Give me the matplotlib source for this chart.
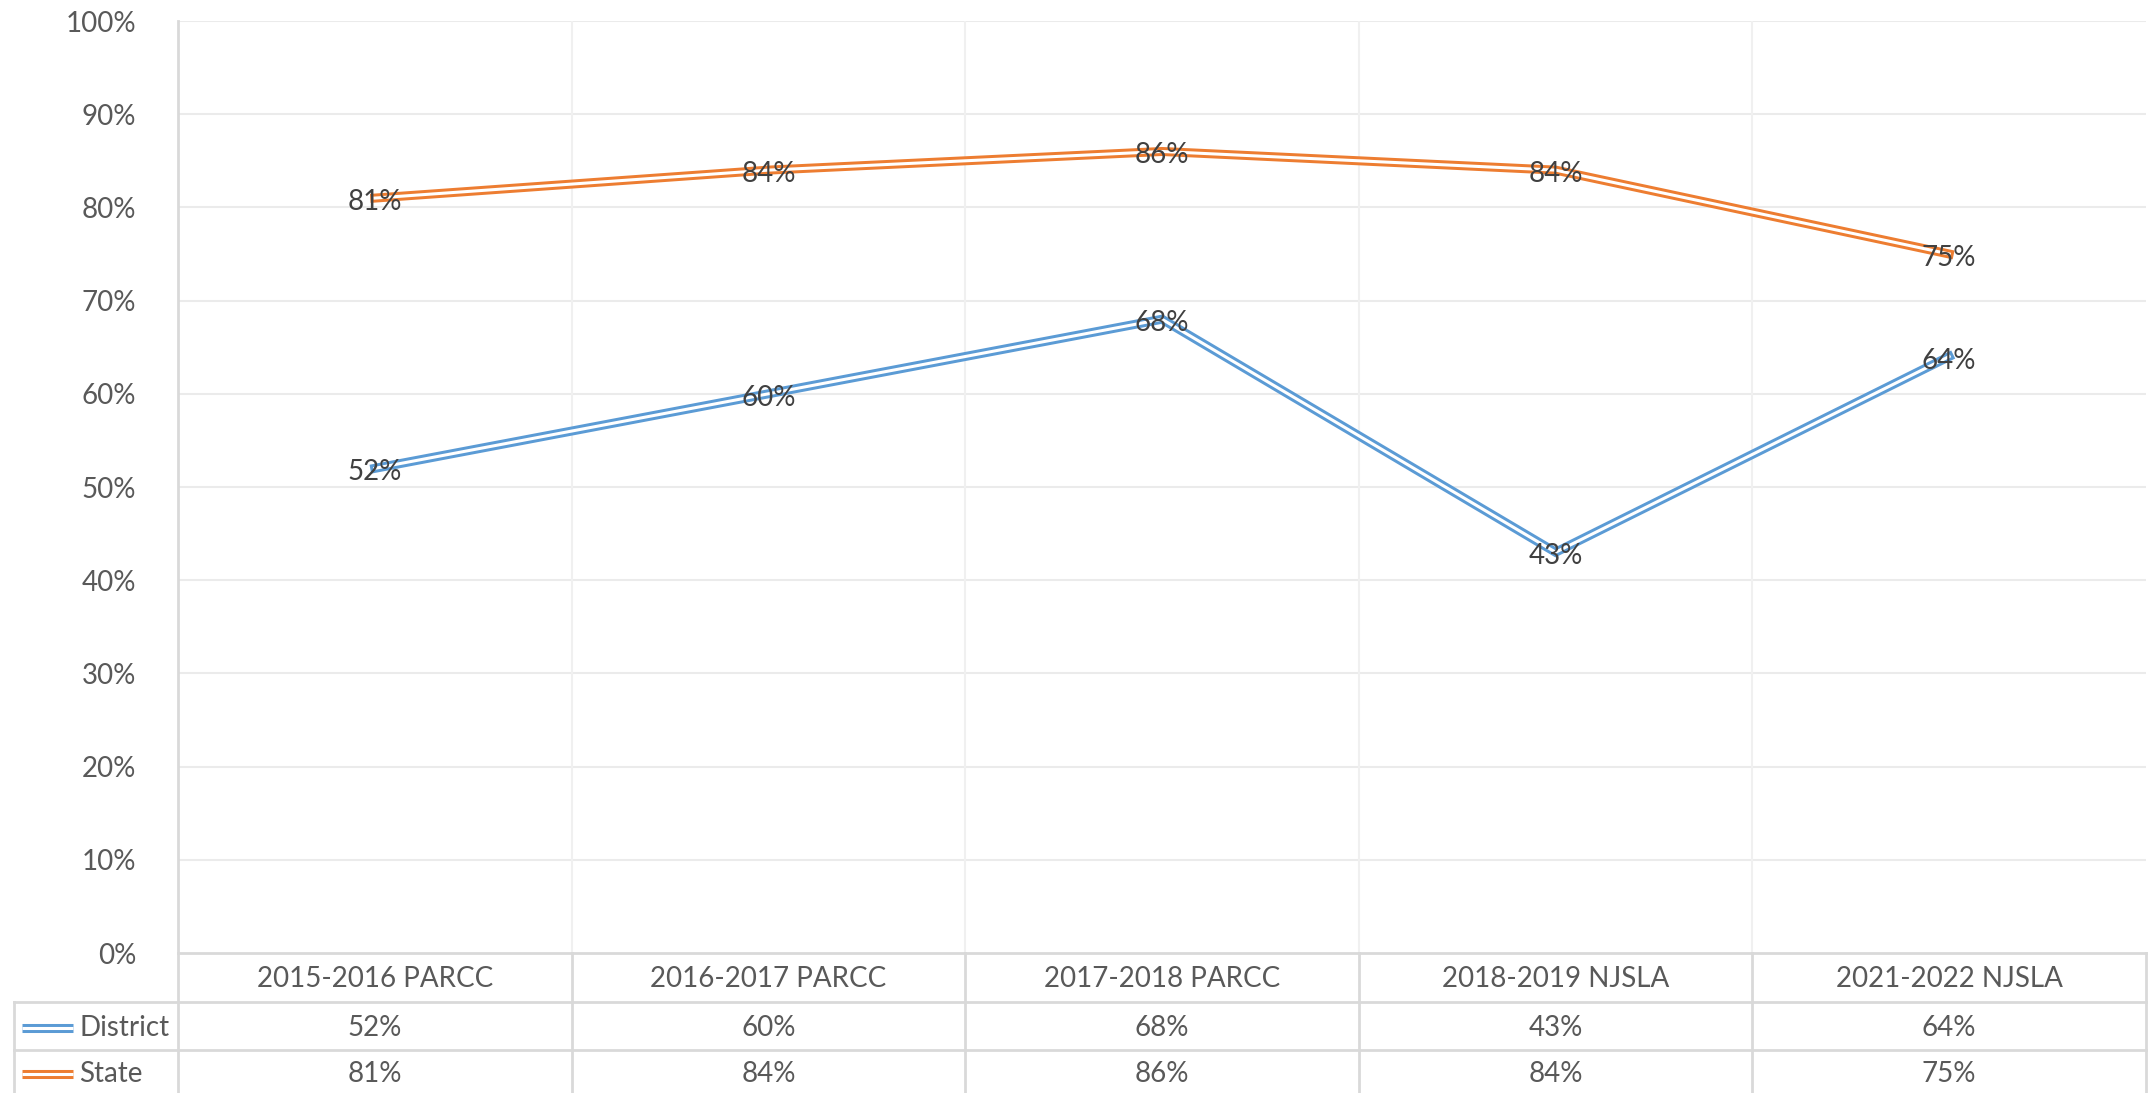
import matplotlib.pyplot as plt
import matplotlib.patheffects as pe
import matplotlib.transforms as mtrans

# --- data ---
categories = ['2015-2016 PARCC', '2016-2017 PARCC', '2017-2018 PARCC',
              '2018-2019 NJSLA', '2021-2022 NJSLA']
district = [52, 60, 68, 43, 64]
state = [81, 84, 86, 84, 75]
series_names = ['District', 'State']
series_colors = ['#5B9BD5', '#ED7D31']
yticks = list(range(0, 101, 10))

plt.rcParams['font.family'] = ['Lato', 'DejaVu Sans']

W, H = 2148, 1093
fig = plt.figure(figsize=(W / 100, H / 100), dpi=100)
# plot area in pixels: left 178, right 2146, top 21, bottom 953
ax = fig.add_axes([178 / W, (H - 953) / H, (2146 - 178) / W, (953 - 21) / H])

x = list(range(len(categories)))
ax.set_xlim(-0.5, len(categories) - 0.5)
ax.set_ylim(0, 100)

double = [pe.Normal(), pe.Stroke(linewidth=2.2, foreground='white')]
# Lato sits a touch high compared with the Calibri original
nudge = mtrans.offset_copy(ax.transData, fig=fig, x=0, y=-4, units='dots')

for vals, color in zip([district, state], series_colors):
    ax.plot(x, vals, color=color, lw=6.5, solid_joinstyle='miter',
            path_effects=double, zorder=3)
    for xi, v in zip(x, vals):
        ax.text(xi, v, f'{v}%', ha='center', va='center', fontsize=20,
                color='#404040', zorder=4, transform=nudge)

# grid
ax.set_yticks(yticks)
ax.set_yticklabels([f'{t}%' for t in yticks], fontsize=20, color='#595959')
ax.tick_params(axis='y', length=0, pad=30)
ax.set_xticks([])
for t in yticks[1:]:
    ax.axhline(t, color='#EBEBEB', lw=1.5, zorder=1)
for b in range(1, len(categories)):
    ax.axvline(b - 0.5, color='#F0F0F0', lw=1.5, zorder=1)
for s in ax.spines.values():
    s.set_visible(False)

# --- data table below the plot ---
border = '#D9D9D9'
inv = ax.transData.inverted()


def px(xp, yp):
    # figure pixel (top-origin) to data coords
    return inv.transform((xp, H - yp))


x_leg = px(14, 0)[0]
x_right = px(2146, 0)[0]
y_top = px(0, 21)[1]
y_row1 = px(0, 1002)[1]
y_row2 = px(0, 1050)[1]
y_bot = px(0, 1100)[1]

kw = dict(color=border, lw=2, clip_on=False, zorder=2)
ax.plot([-0.5, x_right], [0, 0], **kw)
ax.plot([x_leg, x_right], [y_row1, y_row1], **kw)
ax.plot([x_leg, x_right], [y_row2, y_row2], **kw)
ax.plot([-0.5, -0.5], [y_top, y_bot], **kw)
ax.plot([x_leg, x_leg], [y_row1, y_bot], **kw)
ax.plot([x_right, x_right], [0, y_bot], **kw)
for b in range(1, len(categories)):
    ax.plot([b - 0.5, b - 0.5], [0, y_bot], **kw)

y_head = px(0, 979)[1]
y_r1 = px(0, 1028)[1]
y_r2 = px(0, 1074)[1]
for xi, c in zip(x, categories):
    ax.text(xi, y_head, c, ha='center', va='center', fontsize=20,
            color='#595959', clip_on=False)
for xi, v in zip(x, district):
    ax.text(xi, y_r1, f'{v}%', ha='center', va='center', fontsize=20,
            color='#595959', clip_on=False)
for xi, v in zip(x, state):
    ax.text(xi, y_r2, f'{v}%', ha='center', va='center', fontsize=20,
            color='#595959', clip_on=False)

# legend keys in the table
lx0, lx1, tx = px(22, 0)[0], px(73, 0)[0], px(79, 0)[0]
for name, color, yy in zip(series_names, series_colors, [y_r1, y_r2]):
    ax.plot([lx0, lx1], [yy, yy], color=color, lw=6.5, clip_on=False,
            solid_capstyle='butt', path_effects=double)
    ax.text(tx, yy, name, ha='left', va='center', fontsize=20,
            color='#595959', clip_on=False)

fig.savefig('out.png', dpi=100)
